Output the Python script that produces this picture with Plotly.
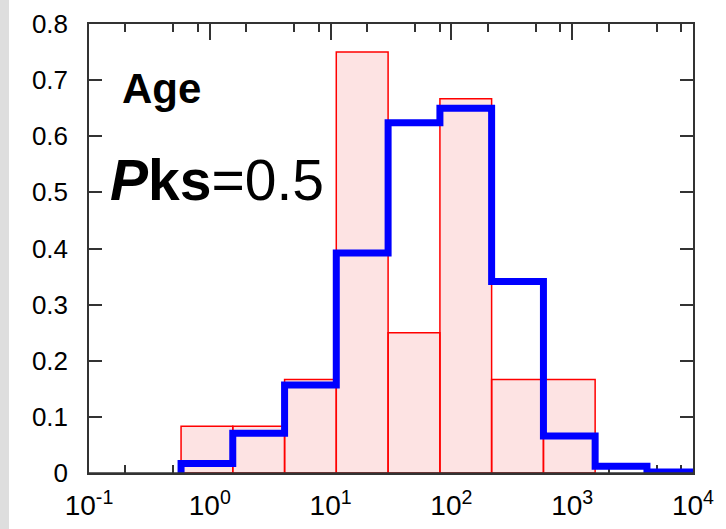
import plotly.graph_objects as go

# ---- data ----
log_edges = [-0.238, 0.190, 0.619, 1.047, 1.476, 1.905, 2.333, 2.762, 3.190, 3.619, 4.048]
red_density = [0.0833, 0.0833, 0.1667, 0.75, 0.25, 0.6667, 0.1667, 0.1667]
blue_density = [0.017, 0.071, 0.157, 0.392, 0.624, 0.650, 0.341, 0.066, 0.012, 0.002]
x_tickvals = [0.1, 1, 10, 100, 1000, 10000]
x_ticktext = ["10<sup>-1</sup>", "10<sup>0</sup>", "10<sup>1</sup>", "10<sup>2</sup>",
              "10<sup>3</sup>", "10<sup>4</sup>"]
x_minor_vals = [m * 10 ** d for d in range(-1, 4) for m in (2, 5, 8)]
y_tickvals = [0, 0.1, 0.2, 0.3, 0.4, 0.5, 0.6, 0.7, 0.8]
y_ticktext = ["0", "0.1", "0.2", "0.3", "0.4", "0.5", "0.6", "0.7", "0.8"]

edges = [10 ** e for e in log_edges]

FONT = "Liberation Sans, Arial, sans-serif"
AXC = "#333333"

fig = go.Figure()

# red histogram bars (filled rectangles with red outline)
bx, by = [], []
for i, h in enumerate(red_density):
    l, r = edges[i], edges[i + 1]
    bx += [l, l, r, r, l, None]
    by += [0, h, h, 0, 0, None]
fig.add_trace(go.Scatter(x=bx, y=by, mode="lines", fill="toself",
                         fillcolor="#fde3e3", line=dict(color="#ff0000", width=1.5),
                         hoverinfo="skip", showlegend=False))

# blue step outline
sx, sy = [edges[0]], [0]
for i, h in enumerate(blue_density):
    sx += [edges[i], edges[i + 1]]
    sy += [h, h]
sx.append(edges[len(blue_density)])
sy.append(0)
fig.add_trace(go.Scatter(x=sx, y=sy, mode="lines",
                         line=dict(color="#0000ff", width=7),
                         hoverinfo="skip", showlegend=False))

fig.update_layout(
    width=726, height=529,
    margin=dict(l=89, r=33, t=24, b=56),
    paper_bgcolor="white", plot_bgcolor="white",
    font=dict(family=FONT, color="black", size=26),
    showlegend=False,
    xaxis=dict(type="log", range=[-1.0001, 4.0001], automargin=False,
               tickmode="array", tickvals=x_tickvals, ticktext=x_ticktext,
               ticks="inside", ticklen=16, tickwidth=1.5, tickcolor=AXC,
               showline=True, linecolor=AXC, linewidth=1.5, mirror="ticks",
               showgrid=False, zeroline=False, layer="below traces",
               tickfont=dict(size=28, family=FONT, color="black"),
               ticklabelstandoff=7,
               minor=dict(tickmode="array", tickvals=x_minor_vals, ticks="inside",
                          ticklen=8, tickwidth=1.5, tickcolor=AXC, showgrid=False)),
    yaxis=dict(range=[0, 0.8], automargin=False,
               tickmode="array", tickvals=y_tickvals, ticktext=y_ticktext,
               ticks="inside", ticklen=13, tickwidth=1.5, tickcolor=AXC,
               showline=True, linecolor=AXC, linewidth=1.5, mirror="ticks",
               showgrid=False, zeroline=False,
               tickfont=dict(size=26, family=FONT, color="black"),
               ticklabelstandoff=14),
    shapes=[
        # grey strip at the far left of the picture
        dict(type="rect", xref="paper", yref="paper",
             x0=-89 / 604, x1=-80 / 604, y0=-0.2, y1=1.1,
             fillcolor="#dedede", line=dict(width=0), layer="below"),
        # bottom axis line drawn above the bars
        dict(type="line", xref="paper", yref="paper", x0=0, x1=1, y0=0, y1=0,
             line=dict(color=AXC, width=1.5), layer="above"),
    ],
    annotations=[
        dict(text="<b>Age</b>", xref="paper", yref="paper", x=0.052, y=0.857,
             xanchor="left", yanchor="middle", showarrow=False,
             font=dict(size=42, family=FONT, color="black")),
        dict(text="<b><i>P</i>ks</b>=0.5", xref="paper", yref="paper", x=0.031, y=0.652,
             xanchor="left", yanchor="middle", showarrow=False,
             font=dict(size=57, family=FONT, color="black")),
    ],
)

fig.write_html("out.html")
